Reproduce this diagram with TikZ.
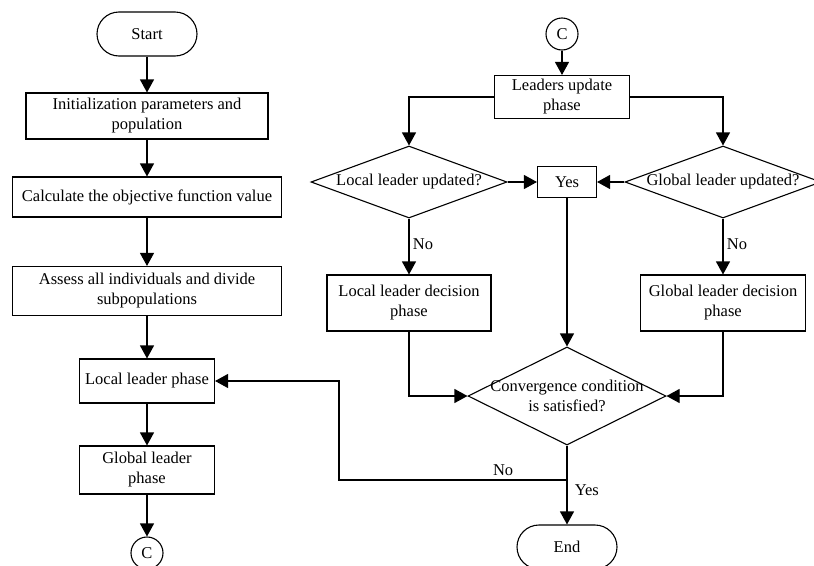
\documentclass[tikz,border=0pt]{standalone}
\usepackage{fontspec}
\setmainfont{Liberation Serif}
\usetikzlibrary{arrows.meta,shapes.geometric}
\begin{document}
\begin{tikzpicture}[x=1pt,y=-1pt,line width=1.1pt,
		font=\fontsize{16.5}{20}\selectfont,
		box/.style={draw,rectangle,align=center,inner sep=2pt},
		term/.style={draw,rectangle,rounded corners=22pt,minimum width=100pt,minimum height=44pt},
		conn/.style={draw,circle,minimum size=32pt,inner sep=0pt},
		decide/.style={draw,diamond,align=center,inner sep=-30pt},
		flow/.style={-{Triangle[length=13pt,width=14pt]}}]
		\useasboundingbox (0,0) rectangle (814,565);
		\node[term] (start) at (147,34) {Start};
		\node[box,minimum width=242pt,minimum height=46pt] (init) at (147,116) {Initialization parameters and\\population};
		\node[box,minimum width=269pt,minimum height=40pt] (calc) at (147,197) {Calculate the objective function value};
		\node[box,minimum width=269pt,minimum height=49pt] (assess) at (147,291) {Assess all individuals and divide\\subpopulations};
		\node[box,minimum width=135pt,minimum height=44pt] (lphase) at (147,381) {Local leader phase};
		\node[box,minimum width=135pt,minimum height=48pt] (gphase) at (147,470) {Global leader\\phase};
		\node[conn] (c1) at (147,553) {C};
		\draw[flow] (start) -- (init);
		\draw[flow] (init) -- (calc);
		\draw[flow] (calc) -- (assess);
		\draw[flow] (assess) -- (lphase);
		\draw[flow] (lphase) -- (gphase);
		\draw[flow] (gphase) -- (c1);

		\node[conn] (c2) at (562,34) {C};
		\node[box,minimum width=135pt,minimum height=43pt] (update) at (562,97) {Leaders update\\phase};
		\node[decide,minimum width=196pt,minimum height=72pt] (ldia) at (409,182) {Local leader updated?};
		\node[decide,minimum width=196pt,minimum height=72pt] (gdia) at (723,182) {Global leader updated?};
		\node[box,minimum width=59pt,minimum height=31pt] (yes) at (567,182) {Yes};
		\node[box,minimum width=164pt,minimum height=56pt] (ldec) at (409,303) {Local leader decision\\phase};
		\node[box,minimum width=165pt,minimum height=56pt] (gdec) at (723,303) {Global leader decision\\phase};
		\node[decide,minimum width=198pt,minimum height=98pt] (conv) at (567,396) {Convergence condition\\is satisfied?};
		\node[term] (end) at (567,547) {End};
		\coordinate (jn) at (567,480);
		\coordinate (bend) at (339,480);

		\draw[flow] (c2) -- (update);
		\draw[flow] (update.west) -| (ldia.north);
		\draw[flow] (update.east) -| (gdia.north);
		\draw[flow] (ldia.east) -- (yes.west);
		\draw[flow] (gdia.west) -- (yes.east);
		\draw[flow] (ldia.south) -- node[right,pos=0.45] {No} (ldec.north);
		\draw[flow] (gdia.south) -- node[right,pos=0.45] {No} (gdec.north);
		\draw[flow] (yes.south) -- (conv.north);
		\draw[flow] (ldec.south) |- (conv.west);
		\draw[flow] (gdec.south) |- (conv.east);
		\draw[flow] (conv.south) -- (end.north);
		\node[anchor=west] at (571,490) {Yes};
		\draw[flow] (jn) -- node[above,pos=0.28] {No} (bend) |- (lphase.east);
	\end{tikzpicture}
\end{document}
